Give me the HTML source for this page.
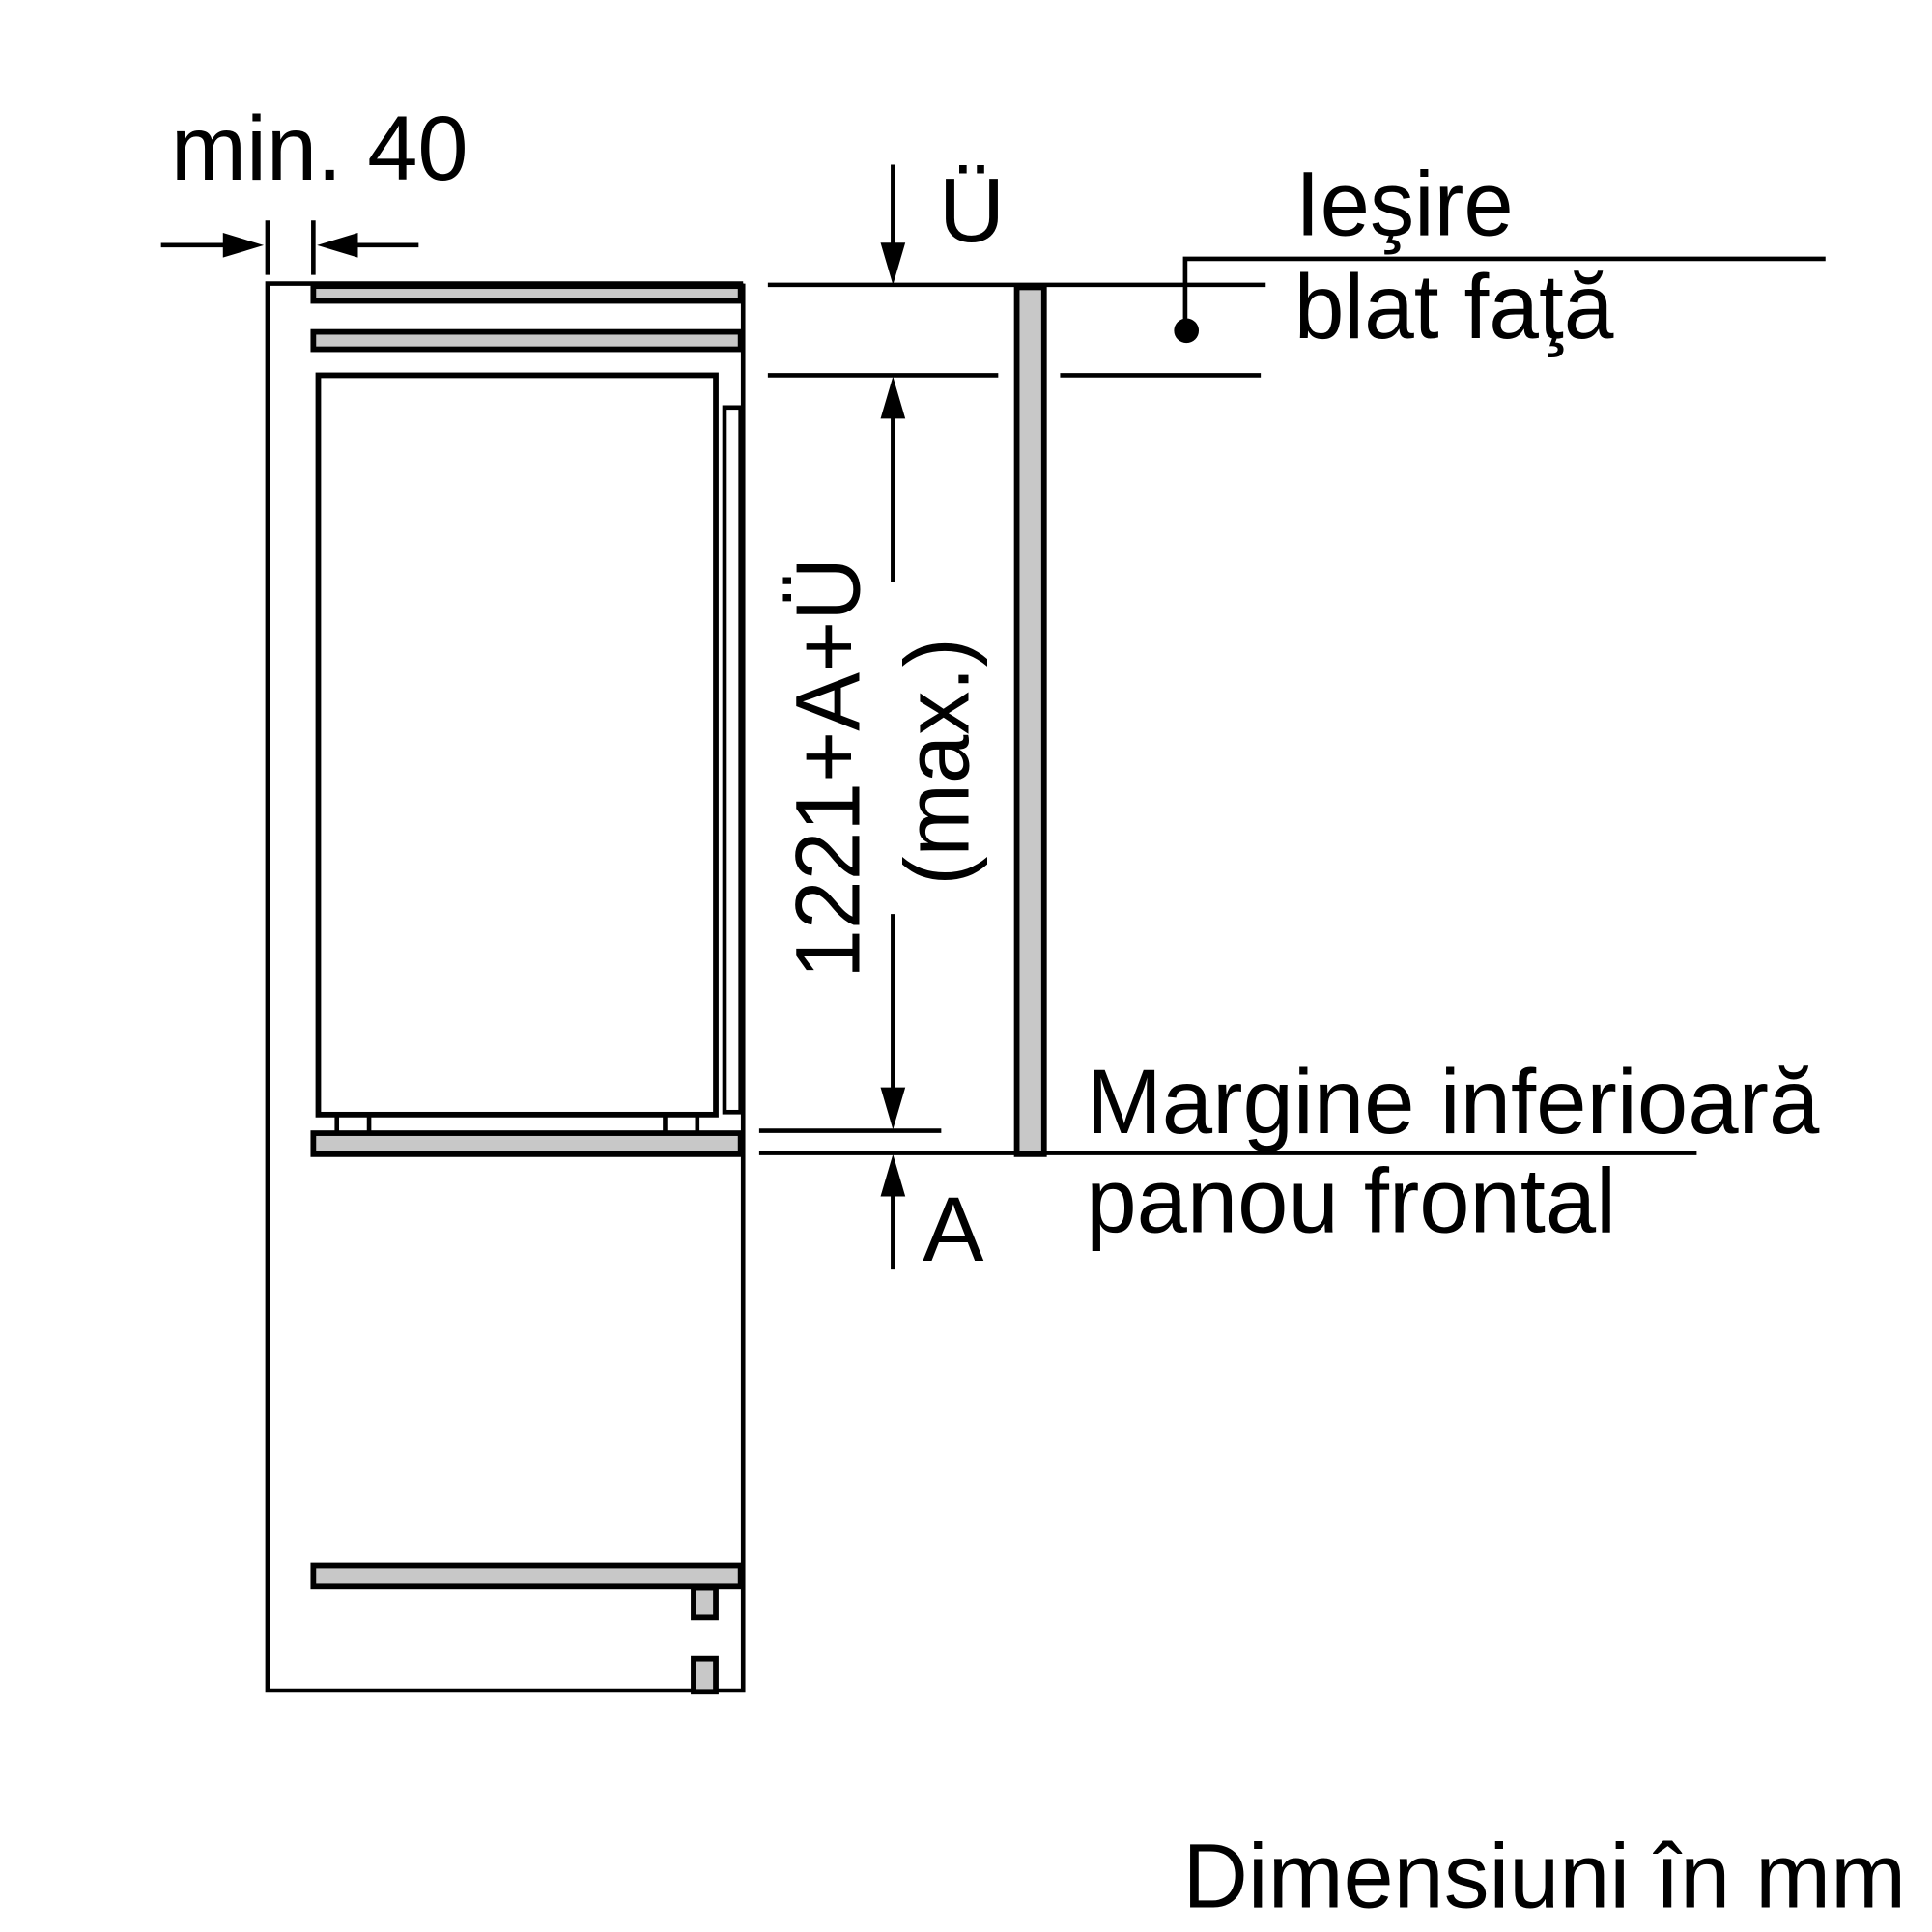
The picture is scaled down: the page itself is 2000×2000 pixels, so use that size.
<!DOCTYPE html>
<html><head><meta charset="utf-8"><style>html,body{margin:0;padding:0;background:#fff}svg{display:block}</style></head>
<body>
<svg width="2000" height="2000" viewBox="0 0 1560 1560" xmlns="http://www.w3.org/2000/svg" font-family="Liberation Sans, sans-serif" fill="#000">
<g stroke="#000" stroke-width="3.6" fill="none">
<polyline points="600,229 216,229 216,1365 600,1365 600,229"/>
<line x1="130" y1="198" x2="190" y2="198"/>
<line x1="216" y1="178" x2="216" y2="222"/>
<line x1="253" y1="178" x2="253" y2="222"/>
<line x1="278" y1="198" x2="338" y2="198"/>
<rect x="257" y="303" width="321" height="597" stroke-width="4.5"/>
<rect x="585" y="329" width="13" height="569"/>
<line x1="272" y1="900" x2="272" y2="914"/><line x1="298" y1="900" x2="298" y2="914"/>
<line x1="537" y1="900" x2="537" y2="914"/><line x1="563" y1="900" x2="563" y2="914"/>
<line x1="620" y1="230" x2="1022" y2="230"/>
<line x1="620" y1="303" x2="806" y2="303"/>
<line x1="856" y1="303" x2="1018" y2="303"/>
<line x1="721" y1="133" x2="721" y2="205"/>
<line x1="721" y1="330" x2="721" y2="470"/>
<line x1="721" y1="738" x2="721" y2="888"/>
<line x1="613" y1="913" x2="760" y2="913"/>
<line x1="613" y1="931" x2="1370" y2="931"/>
<line x1="721" y1="958" x2="721" y2="1025"/>
<polyline points="1474,209 957,209 957,258"/>
</g>
<g fill="#c8c8c8" stroke="#000" stroke-width="4.5">
<rect x="253" y="231" width="345" height="12"/>
<rect x="253" y="268" width="345" height="14"/>
<rect x="253" y="915" width="345" height="17"/>
<rect x="253" y="1264" width="345" height="17"/>
<rect x="560" y="1282" width="18" height="24"/>
<rect x="560" y="1339" width="18" height="27"/>
<rect x="821" y="232" width="22" height="700"/>
</g>
<polygon points="213,198 180,188 180,208"/>
<polygon points="256,198 289,188 289,208"/>
<polygon points="721,230 711,196 731,196"/>
<polygon points="721,304 711,338 731,338"/>
<polygon points="721,912 711,878 731,878"/>
<polygon points="721,932 711,966 731,966"/>
<circle cx="958" cy="267" r="10"/>
<g font-size="74">
<text x="138" y="145" textLength="240" lengthAdjust="spacingAndGlyphs">min. 40</text>
<text x="758" y="195">Ü</text>
<text x="1046" y="190" textLength="176" lengthAdjust="spacingAndGlyphs">Ieşire</text>
<text x="1045" y="273" textLength="258" lengthAdjust="spacingAndGlyphs">blat faţă</text>
<text x="877" y="915" textLength="592" lengthAdjust="spacingAndGlyphs">Margine inferioară</text>
<text x="877" y="995" textLength="428" lengthAdjust="spacingAndGlyphs">panou frontal</text>
<text x="745" y="1018">A</text>
<text x="955" y="1540" textLength="584" lengthAdjust="spacingAndGlyphs">Dimensiuni în mm</text>
<text transform="translate(694,790) rotate(-90)" textLength="340" lengthAdjust="spacingAndGlyphs">1221+A+Ü</text>
<text transform="translate(782,715) rotate(-90)" textLength="200" lengthAdjust="spacingAndGlyphs">(max.)</text>
</g>
</svg>
</body></html>
